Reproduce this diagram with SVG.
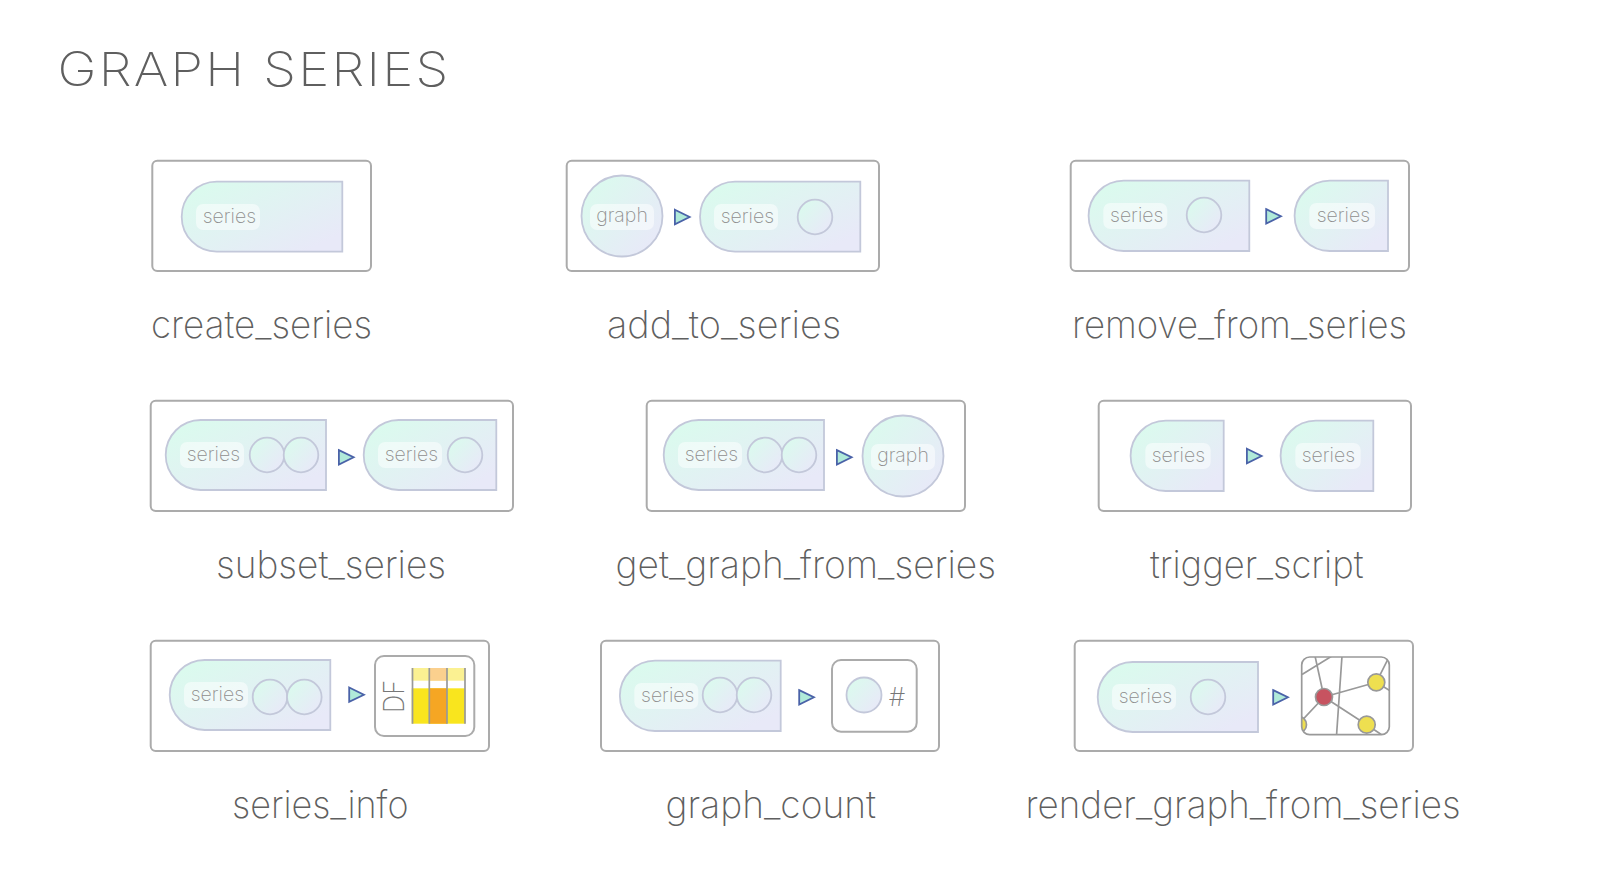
<svg xmlns="http://www.w3.org/2000/svg" width="1600" height="880" viewBox="0 0 1600 880">
<style>
text{font-family:"Inter","Liberation Sans",sans-serif}
.title{font-size:47px;font-weight:200;fill:#5f5f5f}
.name{font-size:38px;font-weight:200;fill:#5f5f5f}
.frame{fill:#fff;stroke:#ababab;stroke-width:2}
.shape{fill:url(#g);stroke:#c3c8da;stroke-width:1.8}
.chip{fill:#fff;fill-opacity:.5}
.lab{font-size:19.5px;font-weight:200;fill:#8f8f8f;transform:translateX(1.4px)}
.lab.gr{transform:none}
.box{fill:#fff;stroke:#ababab;stroke-width:2}
.arrow{fill:#b0ead9;stroke:#4a62a8;stroke-width:1.8;stroke-linejoin:miter}
.sep{stroke:#999;stroke-width:1.7}
.edge{stroke:#999;stroke-width:1.7;fill:none}
.yn{fill:#eedf50;stroke:#999;stroke-width:1.7}
.rn{fill:#c75360;stroke:#999;stroke-width:1.7}
</style>
<defs>
<linearGradient id="g" x1="0.1" y1="0.15" x2="0.9" y2="0.85"><stop offset="0" stop-color="#dbfaee"/><stop offset="1" stop-color="#e8e9f8"/></linearGradient>
<polygon id="tri" points="0.9,-7.2 15.6,0 0.9,7.2"/>
<clipPath id="gc"><rect x="1301.7" y="657" width="87.6" height="77.7" rx="8"/></clipPath>
</defs>
<rect width="1600" height="880" fill="#fff"/>
<text class="title" x="57.5" y="86" textLength="393" lengthAdjust="spacingAndGlyphs" letter-spacing="2">GRAPH SERIES</text>

<g id="create_series">
<rect class="frame" x="152.3" y="160.7" width="218.7" height="110.3" rx="5"/>
<path class="shape" d="M216.7,181.7H342.3V251.7H216.7a35,35 0 0 1 0,-70z"/>
<rect class="chip" x="196" y="204" width="64" height="26" rx="7"/>
<text class="lab" x="228" y="223" text-anchor="middle">series</text>
<text class="name" x="151" y="338" textLength="221" lengthAdjust="spacingAndGlyphs">create_series</text>
</g>

<g id="add_to_series">
<rect class="frame" x="566.7" y="160.7" width="312.3" height="110.3" rx="5"/>
<circle class="shape" cx="622" cy="216" r="40.5"/>
<rect class="chip" x="590" y="204" width="64" height="26" rx="7"/>
<text class="lab gr" x="622" y="222" text-anchor="middle">graph</text>
<path class="shape" d="M735,181.7H860.3V251.7H735a35,35 0 0 1 0,-70z"/>
<rect class="chip" x="714" y="204" width="64" height="26" rx="7"/>
<text class="lab" x="746" y="223" text-anchor="middle">series</text>
<circle class="shape" cx="815" cy="217" r="17.3"/>
<text class="name" x="607" y="338" textLength="234" lengthAdjust="spacingAndGlyphs">add_to_series</text>
</g>

<g id="remove_from_series">
<rect class="frame" x="1070.7" y="160.7" width="338.3" height="110.3" rx="5"/>
<path class="shape" d="M1123.7,180.7H1249.3V251H1123.7a35.15,35.15 0 0 1 0,-70.3z"/>
<rect class="chip" x="1103.3" y="203" width="64" height="26" rx="7"/>
<text class="lab" x="1135.3" y="222" text-anchor="middle">series</text>
<circle class="shape" cx="1204" cy="215" r="17.3"/>
<path class="shape" d="M1329.7,180.7H1388V251H1329.7a35.15,35.15 0 0 1 0,-70.3z"/>
<rect class="chip" x="1309.3" y="203" width="65.7" height="26" rx="7"/>
<text class="lab" x="1342" y="222" text-anchor="middle">series</text>
<text class="name" x="1072" y="338" textLength="335" lengthAdjust="spacingAndGlyphs">remove_from_series</text>
</g>

<g id="subset_series">
<rect class="frame" x="150.7" y="400.7" width="362.3" height="110.3" rx="5"/>
<path class="shape" d="M200.7,420H326V490H200.7a35,35 0 0 1 0,-70z"/>
<rect class="chip" x="180" y="442" width="64" height="26" rx="7"/>
<text class="lab" x="212" y="461" text-anchor="middle">series</text>
<circle class="shape" cx="267" cy="455" r="17.3"/>
<circle class="shape" cx="301" cy="455" r="17.3"/>
<path class="shape" d="M398.7,420H496.3V490H398.7a35,35 0 0 1 0,-70z"/>
<rect class="chip" x="378" y="442" width="64" height="26" rx="7"/>
<text class="lab" x="410" y="461" text-anchor="middle">series</text>
<circle class="shape" cx="465" cy="455" r="17.3"/>
<text class="name" x="216" y="578" textLength="230" lengthAdjust="spacingAndGlyphs">subset_series</text>
</g>

<g id="get_graph_from_series">
<rect class="frame" x="646.7" y="400.7" width="318.3" height="110.3" rx="5"/>
<path class="shape" d="M698.7,420H824V490H698.7a35,35 0 0 1 0,-70z"/>
<rect class="chip" x="678" y="442" width="64" height="26" rx="7"/>
<text class="lab" x="710" y="461" text-anchor="middle">series</text>
<circle class="shape" cx="765" cy="455" r="17.3"/>
<circle class="shape" cx="799" cy="455" r="17.3"/>
<circle class="shape" cx="903" cy="456" r="40.5"/>
<rect class="chip" x="871" y="444" width="64" height="26" rx="7"/>
<text class="lab gr" x="903" y="462" text-anchor="middle">graph</text>
<text class="name" x="615.5" y="578" textLength="380.5" lengthAdjust="spacingAndGlyphs">get_graph_from_series</text>
</g>

<g id="trigger_script">
<rect class="frame" x="1098.7" y="400.7" width="312.3" height="110.3" rx="5"/>
<path class="shape" d="M1165.7,420.7H1223.7V491H1165.7a35.15,35.15 0 0 1 0,-70.3z"/>
<rect class="chip" x="1145.3" y="443" width="65.4" height="26" rx="7"/>
<text class="lab" x="1177" y="462" text-anchor="middle">series</text>
<path class="shape" d="M1315.7,420.7H1373.3V491H1315.7a35.15,35.15 0 0 1 0,-70.3z"/>
<rect class="chip" x="1295.3" y="443" width="65.4" height="26" rx="7"/>
<text class="lab" x="1327" y="462" text-anchor="middle">series</text>
<text class="name" x="1150" y="578" textLength="213.5" lengthAdjust="spacingAndGlyphs">trigger_script</text>
</g>

<g id="series_info">
<rect class="frame" x="150.7" y="640.7" width="338.3" height="110.3" rx="5"/>
<path class="shape" d="M204.7,660H330.3V730H204.7a35,35 0 0 1 0,-70z"/>
<rect class="chip" x="184" y="682" width="64" height="26" rx="7"/>
<text class="lab" x="216" y="701" text-anchor="middle">series</text>
<circle class="shape" cx="270" cy="697" r="17.3"/>
<circle class="shape" cx="304.3" cy="697" r="17.3"/>
<rect class="box" x="375" y="656" width="99.3" height="80" rx="9"/>
<text transform="translate(404 713) rotate(-90)" font-size="28" font-weight="200" fill="#777" textLength="33" lengthAdjust="spacingAndGlyphs">DF</text>
<rect x="411.7" y="668" width="53.6" height="12.7" fill="#fbf192"/>
<rect x="429.3" y="668" width="17.7" height="12.7" fill="#fbd08e"/>
<rect x="411.7" y="688.3" width="53.6" height="35.4" fill="#f9e51e"/>
<rect x="429.3" y="688.3" width="17.7" height="35.4" fill="#f5a623"/>
<path class="sep" d="M412.5,668V723.7M429.3,668V723.7M447,668V723.7M465,668V723.7"/>
<text class="name" x="232" y="818" textLength="176.5" lengthAdjust="spacingAndGlyphs">series_info</text>
</g>

<g id="graph_count">
<rect class="frame" x="601" y="640.7" width="338" height="110.3" rx="5"/>
<path class="shape" d="M655,660.7H780.7V731H655a35.15,35.15 0 0 1 0,-70.3z"/>
<rect class="chip" x="634.3" y="683" width="64" height="26" rx="7"/>
<text class="lab" x="666.3" y="702" text-anchor="middle">series</text>
<circle class="shape" cx="720" cy="695" r="17.3"/>
<circle class="shape" cx="754" cy="695" r="17.3"/>
<rect class="box" x="832" y="660" width="84.7" height="71.7" rx="9"/>
<circle class="shape" cx="864" cy="695" r="17.5"/>
<text x="897" y="706" text-anchor="middle" font-size="26" font-weight="200" fill="#777">#</text>
<text class="name" x="665.5" y="818" textLength="210.5" lengthAdjust="spacingAndGlyphs">graph_count</text>
</g>

<g id="render_graph_from_series">
<rect class="frame" x="1074.7" y="640.7" width="338.3" height="110.3" rx="5"/>
<path class="shape" d="M1132.7,662H1258V732H1132.7a35,35 0 0 1 0,-70z"/>
<rect class="chip" x="1112" y="684" width="64" height="26" rx="7"/>
<text class="lab" x="1144" y="703" text-anchor="middle">series</text>
<circle class="shape" cx="1208" cy="697" r="17.3"/>
<rect x="1301.7" y="657" width="87.6" height="77.7" rx="8" fill="#fff"/>
<g clip-path="url(#gc)">
<path class="edge" d="M1315,656L1324,697M1302,674.5L1332,656M1342,656L1336.5,736M1324,697L1376.3,682.3M1324,697L1366.7,724.7M1324,697L1298,724.7M1376.3,682.3L1390,655M1376.3,682.3L1392,692M1366.7,724.7L1385,737"/>
<circle class="rn" cx="1324" cy="697" r="8.5"/>
<circle class="yn" cx="1376.3" cy="682.3" r="8.5"/>
<circle class="yn" cx="1366.7" cy="724.7" r="8.5"/>
<circle class="yn" cx="1298" cy="724.7" r="8.5"/>
</g>
<rect x="1301.7" y="657" width="87.6" height="77.7" rx="8" fill="none" stroke="#999" stroke-width="1.7"/>
<text class="name" x="1025.5" y="818" textLength="435" lengthAdjust="spacingAndGlyphs">render_graph_from_series</text>
</g>

<g id="connectors">
<use href="#tri" class="arrow" x="674" y="217"/>
<use href="#tri" class="arrow" x="1265.3" y="216.3"/>
<use href="#tri" class="arrow" x="338" y="457.3"/>
<use href="#tri" class="arrow" x="836" y="457.3"/>
<use href="#tri" class="arrow" x="1246" y="456"/>
<use href="#tri" class="arrow" x="348.3" y="694.7"/>
<use href="#tri" class="arrow" x="798.3" y="697.3"/>
<use href="#tri" class="arrow" x="1272.3" y="697.3"/>
</g>
</svg>
